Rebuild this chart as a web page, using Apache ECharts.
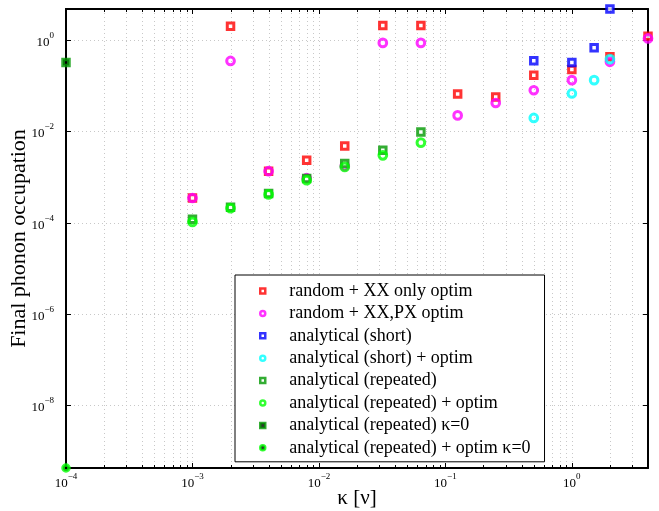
<!DOCTYPE html>
<html>
<head>
<meta charset="utf-8">
<script src="https://cdn.jsdelivr.net/npm/echarts@6/dist/echarts.min.js"></script>
<style>
html, body { margin: 0; padding: 0; background: #fff; }
#main { width: 659px; height: 511px; }
</style>
</head>
<body>
<div id="main"></div>
<script>
// kappa values (units of nu)
var kappa = [0.001, 0.002, 0.004, 0.008, 0.016, 0.032, 0.064, 0.125, 0.25, 0.5, 1, 2, 4];
var randomXX = [3.5e-4, 2.0, 1.35e-3, 2.35e-3, 4.8e-3, 2.1, 2.1, 0.066, 0.057, 0.171, 0.228, 0.43, 1.22];
var randomXXPX = [3.5e-4, 0.35, 1.35e-3, 9.5e-4, 1.75e-3, 0.87, 0.87, 0.0225, 0.042, 0.080, 0.133, 0.335, 1.09];

var kappaShort = [0.5, 1, 1.5, 2];
var analyticShort = [0.352, 0.325, 0.68, 4.8];
var analyticShortOptim = [0.0198, 0.068, 0.133, 0.384];

var kappaRep = [0.001, 0.002, 0.004, 0.008, 0.016, 0.032, 0.064];
var analyticRep = [1.2e-4, 2.2e-4, 4.4e-4, 9.4e-4, 2.0e-3, 3.9e-3, 9.8e-3];
var analyticRepOptim = [1.05e-4, 2.1e-4, 4.2e-4, 8.6e-4, 1.68e-3, 3.0e-3, 5.7e-3];

// kappa=0 results, drawn at the left edge of the axis
var kappaZero = [1e-4];
var analyticRepZero = [0.325];
var analyticRepOptimZero = [4.3e-10];

var names = [
    'random + XX only optim',
    'random + XX,PX optim',
    'analytical (short)',
    'analytical (short) + optim',
    'analytical (repeated)',
    'analytical (repeated) + optim',
    'analytical (repeated) κ=0',
    'analytical (repeated) + optim κ=0'
];

function pairs(xs, ys) {
    return xs.map(function (x, i) { return [x, ys[i]]; });
}

var allY = [].concat(randomXX, randomXXPX, analyticShort, analyticShortOptim,
    analyticRep, analyticRepOptim, analyticRepZero, analyticRepOptimZero);
var yMin = Math.min.apply(null, allY);
var yMax = Math.max.apply(null, allY);
var xMin = kappaZero[0];
var xMax = Math.max.apply(null, kappa);

// minor grid positions 2..9 per decade on the x axis
var minorX = [];
for (var k = -4; k <= 0; k++) {
    for (var m = 2; m <= 9; m++) {
        var v = m * Math.pow(10, k);
        if (v < xMax) minorX.push([v, 1]);
    }
}

var serif = 'Liberation Serif';

function expLabel(e) {
    var r = Math.round(e);
    if (Math.abs(e - r) > 1e-6) return '';
    return '{b|10}{s|' + (r < 0 ? '\u2212' + (-r) : r) + '}';
}
var labelRich = {
    b: { fontFamily: serif, fontSize: 13, color: '#000', lineHeight: 18, verticalAlign: 'bottom' },
    s: { fontFamily: serif, fontSize: 9, color: '#000', lineHeight: 6, verticalAlign: 'top' }
};
var gridLine = { show: true, lineStyle: { color: '#c8c8c8', width: 1, type: [1, 3] } };
var axisLine = { show: true, onZero: false, lineStyle: { color: '#000', width: 2 } };
var tick = { show: true, inside: true, length: 5, lineStyle: { color: '#000', width: 1 } };

function squareStyle(color) {
    return { color: '#fff', borderColor: color, borderWidth: 3 };
}
function circleStyle(color) {
    return { color: 'rgba(255,255,255,0)', borderColor: color, borderWidth: 3 };
}

var myChart = echarts.init(document.getElementById('main'));
var option = {
    animation: false,
    backgroundColor: '#fff',
    grid: { left: 66, right: 11, top: 9, bottom: 43, outerBoundsMode: 'none' },
    xAxis: [{
        type: 'log',
        logBase: 10,
        position: 'bottom',
        min: xMin,
        max: xMax,
        interval: 1,
        name: 'κ [ν]',
        nameLocation: 'middle',
        nameGap: 20,
        nameMoveOverlap: false,
        nameTextStyle: { fontFamily: serif, fontSize: 21, color: '#000' },
        axisLine: axisLine,
        axisTick: tick,
        splitLine: gridLine,
        axisLabel: {
            margin: 4, rich: labelRich,
            formatter: function (val) { return expLabel(Math.log10(val)); }
        }
    }, {
        type: 'log',
        position: 'top',
        min: xMin,
        max: xMax,
        interval: 1,
        axisLine: axisLine,
        axisTick: tick,
        splitLine: { show: false },
        axisLabel: { show: false }
    }],
    yAxis: [{
        // data axis
        type: 'log',
        logBase: 10,
        position: 'left',
        min: yMin,
        max: yMax,
        axisLine: axisLine,
        axisTick: { show: false },
        splitLine: { show: false },
        axisLabel: { show: false }
    }, {
        // decade ticks, labels and grid, in log10 units of the same range
        type: 'value',
        position: 'left',
        min: Math.log10(yMin),
        max: Math.log10(yMax),
        splitNumber: 5,
        name: 'Final phonon occupation',
        nameLocation: 'middle',
        nameGap: 36,
        nameMoveOverlap: false,
        nameTextStyle: { fontFamily: serif, fontSize: 22, color: '#000' },
        axisLine: axisLine,
        axisTick: tick,
        splitLine: gridLine,
        axisLabel: { margin: 12, formatter: expLabel, rich: labelRich }
    }, {
        type: 'value',
        position: 'right',
        min: Math.log10(yMin),
        max: Math.log10(yMax),
        splitNumber: 5,
        axisLine: axisLine,
        axisTick: tick,
        splitLine: { show: false },
        axisLabel: { show: false }
    }],
    legend: {
        orient: 'vertical',
        left: 235,
        top: 275,
        backgroundColor: '#fff',
        borderColor: '#000',
        borderWidth: 1,
        borderRadius: 0,
        padding: [7, 14, 5, 24],
        itemWidth: 5,
        itemHeight: 5,
        itemGap: 4.4,
        itemStyle: { borderWidth: 2.5 },
        textStyle: { fontFamily: serif, fontSize: 18, color: '#000', padding: [0, 0, 0, 19] },
        data: names
    },
    series: [
        {
            type: 'custom',
            name: 'minor',
            silent: true,
            z: 1,
            data: minorX,
            renderItem: function (params, api) {
                var cs = params.coordSys;
                var px = Math.round(api.coord([api.value(0), 1])[0]) + 0.5;
                var top = cs.y, bot = cs.y + cs.height;
                return {
                    type: 'group',
                    children: [
                        { type: 'line', shape: { x1: px, y1: top, x2: px, y2: bot }, style: { stroke: '#c8c8c8', lineWidth: 1, lineDash: [1, 3] } },
                        { type: 'line', shape: { x1: px, y1: bot, x2: px, y2: bot - 3 }, style: { stroke: '#000', lineWidth: 1 } },
                        { type: 'line', shape: { x1: px, y1: top, x2: px, y2: top + 3 }, style: { stroke: '#000', lineWidth: 1 } }
                    ]
                };
            }
        },
        { type: 'scatter', name: names[0], symbol: 'rect', symbolSize: 6.5, clip: false, data: pairs(kappa, randomXX), itemStyle: squareStyle('#ff0000') },
        { type: 'scatter', name: names[1], symbol: 'circle', symbolSize: 7.7, clip: false, data: pairs(kappa, randomXXPX), itemStyle: circleStyle('#ff00ff') },
        { type: 'scatter', name: names[2], symbol: 'rect', symbolSize: 6.5, clip: false, data: pairs(kappaShort, analyticShort), itemStyle: squareStyle('#0000ff') },
        { type: 'scatter', name: names[3], symbol: 'circle', symbolSize: 7.7, clip: false, data: pairs(kappaShort, analyticShortOptim), itemStyle: circleStyle('#00ffff') },
        { type: 'scatter', name: names[4], symbol: 'rect', symbolSize: 6.5, clip: false, data: pairs(kappaRep, analyticRep), itemStyle: squareStyle('#009900') },
        { type: 'scatter', name: names[5], symbol: 'circle', symbolSize: 7.7, clip: false, data: pairs(kappaRep, analyticRepOptim), itemStyle: circleStyle('#00ff00') },
        { type: 'scatter', name: names[6], symbol: 'rect', symbolSize: 6, clip: false, data: pairs(kappaZero, analyticRepZero), itemStyle: { color: '#000', borderColor: '#009900', borderWidth: 3.5 } },
        { type: 'scatter', name: names[7], symbol: 'circle', symbolSize: 6, clip: false, data: pairs(kappaZero, analyticRepOptimZero), itemStyle: { color: '#000', borderColor: '#00ff00', borderWidth: 3.5 } }
    ]
};
myChart.setOption(option);
</script>
</body>
</html>
